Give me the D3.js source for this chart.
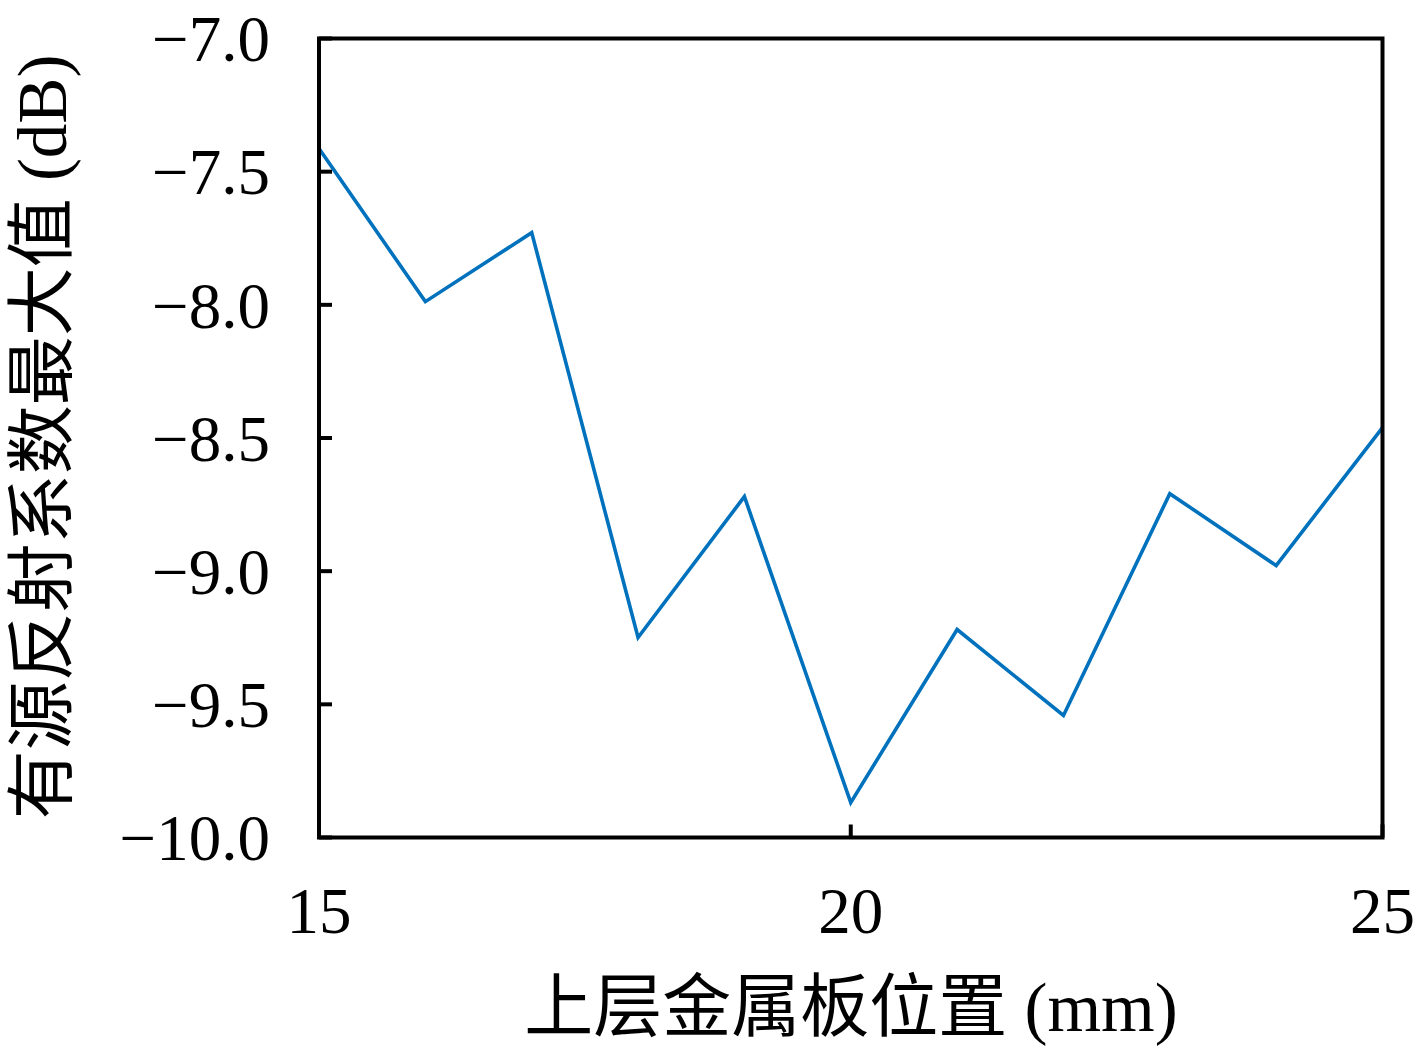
<!DOCTYPE html>
<html><head><meta charset="utf-8">
<script src="https://cdn.jsdelivr.net/npm/d3@7"></script>
<style>body{margin:0;background:#fff;} svg{display:block;}</style>
</head><body>
<script>
const positions = [15, 16, 17, 18, 19, 20, 21, 22, 23, 24, 25];
const maxS11 = [-7.413, -7.988, -7.729, -9.249, -8.720, -9.869, -9.219, -9.542, -8.709, -8.979, -8.461];
const xTicks = [15, 20, 25];
const yTicks = [-10.0, -9.5, -9.0, -8.5, -8.0, -7.5, -7.0];
const xLabel = "上层金属板位置 (mm)";
const yLabel = "有源反射系数最大值 (dB)";

const W = 1417, H = 1049;
const m = {left: 319, right: 1382.5, top: 38.5, bottom: 837.5};
const font = "'Liberation Serif', 'Noto Sans CJK SC', serif";

const svg = d3.select("body").append("svg").attr("width", W).attr("height", H);
const x = d3.scaleLinear().domain([15, 25]).range([m.left, m.right]);
const y = d3.scaleLinear().domain([-10, -7]).range([m.bottom, m.top]);

// line
const line = d3.line().x((d, i) => x(positions[i])).y(d => y(d));
svg.append("path").datum(maxS11).attr("d", line)
  .attr("fill", "none").attr("stroke", "#0072BD").attr("stroke-width", 3.6)
  .attr("stroke-linejoin", "miter");

// ticks inside
svg.append("g").selectAll("line").data(xTicks).join("line")
  .attr("x1", d => x(d)).attr("x2", d => x(d))
  .attr("y1", m.bottom).attr("y2", m.bottom - 13)
  .attr("stroke", "#000").attr("stroke-width", 4);
svg.append("g").selectAll("line").data(yTicks).join("line")
  .attr("x1", m.left).attr("x2", m.left + 13)
  .attr("y1", d => y(d)).attr("y2", d => y(d))
  .attr("stroke", "#000").attr("stroke-width", 4);

// frame
svg.append("rect").attr("x", m.left).attr("y", m.top)
  .attr("width", m.right - m.left).attr("height", m.bottom - m.top)
  .attr("fill", "none").attr("stroke", "#000").attr("stroke-width", 4);

// tick labels
svg.append("g").selectAll("text").data(xTicks).join("text")
  .attr("x", d => x(d)).attr("y", 933)
  .attr("text-anchor", "middle").attr("font-family", font).attr("font-size", 65)
  .text(d => d3.format("d")(d));
svg.append("g").selectAll("text").data(yTicks).join("text")
  .attr("x", 270).attr("y", d => y(d)).attr("dy", "0.35em")
  .attr("text-anchor", "end").attr("font-family", font).attr("font-size", 65)
  .text(d => d3.format(".1f")(d).replace("-", "\u2212"));

// axis labels
svg.append("text").attr("x", 851).attr("y", 1031)
  .attr("text-anchor", "middle").attr("font-family", font).attr("font-size", 69)
  .text(xLabel);
svg.append("text").attr("transform", "translate(66,437) rotate(-90)")
  .attr("text-anchor", "middle").attr("font-family", font).attr("font-size", 69)
  .text(yLabel);
</script>
</body></html>
